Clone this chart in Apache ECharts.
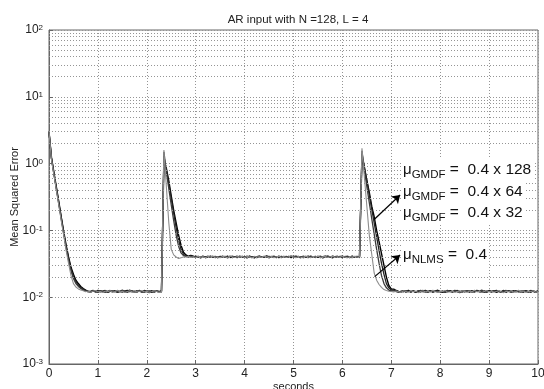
<!DOCTYPE html>
<html>
<head>
<meta charset="utf-8">
<script src="https://cdn.jsdelivr.net/npm/echarts@6/dist/echarts.min.js"></script>
<style>
html,body{margin:0;padding:0;background:#fff;}
#chart{width:544px;height:389px;}
</style>
</head>
<body>
<div id="chart"></div>
<script>
// ---- data ----
var titleText = 'AR input with N =128, L = 4';
var xTicks = [0,1,2,3,4,5,6,7,8,9,10];
var yTickExps = [-3,-2,-1,0,1,2];

var seconds = [
0,0.05,0.1,0.15,0.2,0.25,0.3,0.35,0.4,0.45,0.5,0.55,0.6,0.65,0.7,0.75,0.8,0.85,0.9,0.95,
1,1.05,1.1,1.15,1.2,1.25,1.3,1.35,1.4,1.45,1.5,1.55,1.6,1.65,1.7,1.75,1.8,1.85,1.9,1.95,
2,2.05,2.1,2.15,2.2,2.25,2.3,2.35,2.4,2.45,2.5,2.55,2.6,2.65,2.7,2.75,2.8,2.85,2.9,2.95,
3,3.05,3.1,3.15,3.2,3.25,3.3,3.35,3.4,3.45,3.5,3.55,3.6,3.65,3.7,3.75,3.8,3.85,3.9,3.95,
4,4.05,4.1,4.15,4.2,4.25,4.3,4.35,4.4,4.45,4.5,4.55,4.6,4.65,4.7,4.75,4.8,4.85,4.9,4.95,
5,5.05,5.1,5.15,5.2,5.25,5.3,5.35,5.4,5.45,5.5,5.55,5.6,5.65,5.7,5.75,5.8,5.85,5.9,5.95,
6,6.05,6.1,6.15,6.2,6.25,6.3,6.35,6.4,6.45,6.5,6.55,6.6,6.65,6.7,6.75,6.8,6.85,6.9,6.95,
7,7.05,7.1,7.15,7.2,7.25,7.3,7.35,7.4,7.45,7.5,7.55,7.6,7.65,7.7,7.75,7.8,7.85,7.9,7.95,
8,8.05,8.1,8.15,8.2,8.25,8.3,8.35,8.4,8.45,8.5,8.55,8.6,8.65,8.7,8.75,8.8,8.85,8.9,8.95,
9,9.05,9.1,9.15,9.2,9.25,9.3,9.35,9.4,9.45,9.5,9.55,9.6,9.65,9.7,9.75,9.8,9.85,9.9,9.95,
10
];

var mseNlms = [
3.0,1.15,0.68,0.40,0.24,0.14,0.085,0.05,0.032,0.021,0.016,0.0142,0.0133,0.0128,0.0125,
0.0121,0.0124,0.0119,0.0123,0.0126,0.0120,0.0122,0.0118,0.0124,0.0121,
0.0125,0.0119,0.0122,0.0127,0.0120,0.0123,0.0118,0.0122,0.0125,0.0121,
0.0119,0.0124,0.0122,0.0126,0.0120,0.0123,0.0119,0.0121,0.0125,0.0122,
0.0118,0.0121,
1.6,0.45,0.13,0.052,0.043,0.040,0.038,0.039,0.040,0.040,0.041,
0.0395,0.0402,0.0388,0.0410,0.0398,0.0404,0.0391,0.0407,0.0399,0.0412,
0.0396,0.0403,0.0389,0.0408,0.0401,0.0394,0.0415,0.0400,0.0392,0.0406,
0.0398,0.0411,0.0393,0.0405,0.0402,0.0387,0.0409,0.0399,0.0404,0.0395,
0.0413,0.0401,0.0396,0.0408,0.0390,0.0403,0.0410,0.0397,0.0405,0.0393,
0.0402,0.0416,0.0398,0.0391,0.0407,0.0400,0.0395,0.0411,0.0403,0.0389,
0.0406,0.0399,0.0412,0.0394,0.0401,0.0408,0.0392,0.0404,0.0410,0.0397,
0.0403,0.0395,0.0409,0.0400,0.0388,0.0405,0.0398,0.0411,0.0396,0.0402,
1.7,0.62,0.23,0.085,0.044,0.023,0.018,0.0155,0.014,0.013,0.0126,0.0123,0.0122,
0.0120,0.0124,0.0121,0.0118,0.0125,0.0122,0.0119,0.0126,0.0121,0.0123,
0.0117,0.0122,0.0125,0.0120,0.0124,0.0119,0.0127,0.0121,0.0118,0.0123,
0.0122,0.0126,0.0119,0.0121,0.0124,0.0118,0.0123,0.0120,0.0125,0.0122,
0.0119,0.0124,0.0121,0.0127,0.0120,0.0123,0.0118,0.0122,0.0125,0.0121,
0.0124,0.0119,0.0122,0.0126,0.0120,0.0117,0.0123,0.0121,0.0125,0.0119,
0.0122,0.0127,0.0120,0.0124,0.0118,0.0123,0.0121,0.0125,0.0119,0.0122
];

var mseGmdf128 = [
3.0,1.2,0.70,0.42,0.25,0.15,0.09,0.055,0.036,0.025,0.019,0.016,0.0145,0.0135,0.0128,
0.0124,0.0120,0.0123,0.0127,0.0119,0.0122,0.0125,0.0121,0.0118,0.0123,
0.0126,0.0120,0.0124,0.0119,0.0122,0.0128,0.0121,0.0118,0.0123,0.0125,
0.0120,0.0122,0.0127,0.0119,0.0124,0.0121,0.0117,0.0123,0.0120,0.0125,
0.0122,0.0119,
1.5,0.75,0.42,0.24,0.14,0.085,0.058,0.046,0.042,0.041,0.040,
0.0408,0.0396,0.0412,0.0401,0.0389,0.0405,0.0399,0.0414,0.0393,0.0403,
0.0410,0.0392,0.0401,0.0397,0.0409,0.0386,0.0404,0.0411,0.0398,0.0390,
0.0407,0.0400,0.0394,0.0413,0.0397,0.0405,0.0391,0.0402,0.0408,0.0396,
0.0399,0.0410,0.0388,0.0404,0.0413,0.0395,0.0401,0.0392,0.0409,0.0403,
0.0394,0.0405,0.0411,0.0397,0.0402,0.0389,0.0414,0.0398,0.0391,0.0407,
0.0400,0.0393,0.0406,0.0411,0.0396,0.0403,0.0415,0.0399,0.0390,0.0405,
0.0398,0.0409,0.0394,0.0402,0.0412,0.0397,0.0391,0.0404,0.0408,0.0400,
1.55,0.8,0.45,0.26,0.15,0.088,0.052,0.032,0.021,0.016,0.0138,0.0128,0.0124,
0.0125,0.0121,0.0118,0.0123,0.0120,0.0126,0.0122,0.0119,0.0124,0.0121,
0.0123,0.0127,0.0120,0.0122,0.0118,0.0124,0.0121,0.0125,0.0119,0.0122,
0.0120,0.0123,0.0127,0.0121,0.0119,0.0125,0.0122,0.0117,0.0124,0.0120,
0.0126,0.0121,0.0123,0.0119,0.0124,0.0122,0.0128,0.0120,0.0118,0.0123,
0.0121,0.0125,0.0120,0.0123,0.0119,0.0124,0.0126,0.0122,0.0118,0.0121,
0.0124,0.0120,0.0122,0.0126,0.0121,0.0119,0.0125,0.0123,0.0120,0.0124
];

var mseGmdf64 = [
3.0,1.2,0.72,0.43,0.26,0.155,0.093,0.057,0.038,0.026,0.020,0.017,0.015,0.0138,0.013,
0.0126,0.0122,0.0119,0.0124,0.0121,0.0127,0.0120,0.0123,0.0125,0.0118,
0.0122,0.0124,0.0120,0.0126,0.0121,0.0119,0.0125,0.0122,0.0128,0.0120,
0.0123,0.0119,0.0125,0.0121,0.0118,0.0124,0.0122,0.0126,0.0119,0.0123,
0.0121,0.0124,
1.3,0.8,0.5,0.3,0.18,0.11,0.072,0.052,0.044,0.041,0.040,
0.0415,0.0401,0.0393,0.0408,0.0397,0.0411,0.0389,0.0404,0.0400,0.0410,
0.0392,0.0406,0.0399,0.0413,0.0395,0.0402,0.0408,0.0390,0.0405,0.0398,
0.0411,0.0394,0.0403,0.0397,0.0409,0.0401,0.0388,0.0406,0.0412,0.0396,
0.0402,0.0393,0.0410,0.0399,0.0405,0.0391,0.0414,0.0400,0.0396,0.0408,
0.0397,0.0412,0.0390,0.0403,0.0409,0.0395,0.0401,0.0407,0.0393,0.0411,
0.0403,0.0396,0.0409,0.0392,0.0405,0.0413,0.0398,0.0402,0.0389,0.0406,
0.0410,0.0399,0.0393,0.0407,0.0401,0.0395,0.0412,0.0398,0.0404,0.0392,
1.4,0.9,0.55,0.34,0.21,0.13,0.08,0.05,0.032,0.022,0.016,0.0138,0.0128,
0.0128,0.0124,0.0120,0.0122,0.0126,0.0119,0.0123,0.0121,0.0125,0.0118,
0.0122,0.0120,0.0124,0.0127,0.0121,0.0123,0.0119,0.0122,0.0126,0.0120,
0.0124,0.0118,0.0122,0.0125,0.0121,0.0127,0.0120,0.0123,0.0119,0.0124,
0.0121,0.0125,0.0119,0.0122,0.0126,0.0120,0.0123,0.0118,0.0124,0.0122,
0.0119,0.0123,0.0127,0.0121,0.0118,0.0124,0.0120,0.0125,0.0122,0.0126,
0.0120,0.0123,0.0119,0.0121,0.0125,0.0122,0.0118,0.0124,0.0121,0.0123
];

var mseGmdf32 = [
3.0,1.25,0.74,0.45,0.27,0.16,0.097,0.06,0.04,0.028,0.022,0.018,0.016,0.0145,0.0135,
0.0128,0.0123,0.0120,0.0125,0.0122,0.0118,0.0124,0.0121,0.0126,0.0119,
0.0123,0.0121,0.0125,0.0118,0.0122,0.0124,0.0120,0.0127,0.0121,0.0123,
0.0119,0.0125,0.0122,0.0120,0.0126,0.0121,0.0123,0.0118,0.0124,0.0122,
0.0120,0.0123,
1.1,0.85,0.55,0.33,0.2,0.13,0.085,0.06,0.047,0.043,0.041,
0.0422,0.0410,0.0398,0.0405,0.0391,0.0409,0.0402,0.0395,0.0413,0.0399,
0.0404,0.0390,0.0408,0.0401,0.0396,0.0412,0.0393,0.0405,0.0400,0.0410,
0.0395,0.0407,0.0401,0.0389,0.0411,0.0398,0.0404,0.0392,0.0408,0.0403,
0.0397,0.0414,0.0400,0.0406,0.0394,0.0403,0.0390,0.0409,0.0401,0.0396,
0.0408,0.0393,0.0402,0.0413,0.0399,0.0405,0.0391,0.0400,0.0410,0.0397,
0.0401,0.0409,0.0395,0.0404,0.0389,0.0407,0.0402,0.0394,0.0412,0.0400,
0.0396,0.0405,0.0411,0.0399,0.0403,0.0390,0.0407,0.0401,0.0395,0.0409,
1.25,0.85,0.56,0.37,0.23,0.16,0.1,0.068,0.045,0.03,0.02,0.015,0.0132,
0.0132,0.0126,0.0122,0.0119,0.0124,0.0121,0.0127,0.0120,0.0123,0.0118,
0.0124,0.0121,0.0126,0.0119,0.0122,0.0125,0.0120,0.0123,0.0127,0.0121,
0.0118,0.0123,0.0121,0.0125,0.0120,0.0122,0.0126,0.0119,0.0124,0.0121,
0.0123,0.0119,0.0125,0.0121,0.0127,0.0122,0.0118,0.0124,0.0120,0.0126,
0.0122,0.0125,0.0118,0.0123,0.0121,0.0126,0.0119,0.0124,0.0122,0.0120,
0.0125,0.0121,0.0123,0.0119,0.0124,0.0120,0.0126,0.0122,0.0118,0.0123
];

// annotation arrows (data coordinates: [seconds, MSE])
var arrowGmdf = [[6.66, 0.148], [7.18, 0.339]];
var arrowNlms = [[6.66, 0.0203], [7.18, 0.0428]];
var annotationRows = [
  {sub: 'GMDF', rest: ' =  0.4 x 128'},
  {sub: 'GMDF', rest: ' =  0.4 x 64'},
  {sub: 'GMDF', rest: ' =  0.4 x 32'},
  {sub: 'NLMS', rest: ' =  0.4'}
];

// ---- chart ----
var FONT = '"Liberation Sans", Arial, sans-serif';
var chart = echarts.init(document.getElementById('chart'), null, {renderer: 'canvas'});

function pairs(arr) { return seconds.map(function (t, i) { return [t, arr[i]]; }); }

var minorLevels = [];
for (var e = yTickExps[0]; e < yTickExps[yTickExps.length - 1]; e++) {
  for (var m = 2; m <= 9; m++) minorLevels.push(m * Math.pow(10, e));
}

var gridDot = {color: '#959595', width: 1, type: [1, 2]};

function curve(name, arr, color, width) {
  return {
    name: name, type: 'line', data: pairs(arr), showSymbol: false, symbol: 'none',
    lineStyle: {color: color, width: width}, z: 3, animation: false, silent: true
  };
}

var rowY = [170, 192, 213, 255];
var richAnn = {
  m: {fontFamily: FONT, fontSize: 15, lineHeight: 22, verticalAlign: 'middle', fill: '#111', color: '#111'},
  s: {fontFamily: FONT, fontSize: 11.5, lineHeight: 12, verticalAlign: 'bottom', fill: '#111', color: '#111'},
  e: {fontFamily: FONT, fontSize: 15.5, lineHeight: 22, verticalAlign: 'middle', fill: '#111', color: '#111'}
};
var graphics = annotationRows.map(function (r, i) {
  return {
    type: 'text', x: 401, y: rowY[i], z: 100,
    style: {
      text: '{m|μ}{s|' + r.sub + '}{e|' + r.rest + '}',
      rich: richAnn, verticalAlign: 'middle', align: 'left',
      backgroundColor: '#fff', padding: [0, 2, 0, 2]
    }
  };
});

chart.setOption({
  animation: false,
  backgroundColor: '#fff',
  title: {
    text: titleText, left: 293, top: 9, textAlign: 'center',
    textStyle: {fontFamily: FONT, fontSize: 11.5, fontWeight: 'normal', color: '#222'}
  },
  grid: {
    left: 49, right: 6, top: 30, bottom: 25, outerBoundsMode: 'none', containLabel: false,
    show: true, borderColor: '#666', borderWidth: 1, backgroundColor: 'transparent'
  },
  xAxis: {
    type: 'value', min: xTicks[0], max: xTicks[xTicks.length - 1], interval: 1,
    name: 'seconds', nameLocation: 'middle', nameGap: 17, nameMoveOverlap: false,
    nameTextStyle: {fontFamily: FONT, fontSize: 11, color: '#222'},
    axisLine: {show: true, lineStyle: {color: '#666'}},
    axisTick: {show: true, inside: true, length: 4, lineStyle: {color: '#666'}},
    axisLabel: {margin: 4, fontFamily: FONT, fontSize: 12, color: '#222'},
    splitLine: {show: true, lineStyle: gridDot}
  },
  yAxis: {
    type: 'log', logBase: 10, min: Math.pow(10, yTickExps[0]), max: Math.pow(10, yTickExps[yTickExps.length - 1]),
    name: 'Mean Squared Error', nameLocation: 'middle', nameGap: 29, nameMoveOverlap: false,
    nameTextStyle: {fontFamily: FONT, fontSize: 11, color: '#222'},
    axisLine: {show: true, lineStyle: {color: '#666'}},
    axisTick: {show: true, inside: true, length: 4, lineStyle: {color: '#666'}},
    axisLabel: {
      margin: 6, fontFamily: FONT, color: '#222',
      formatter: function (v) { var ex = Math.round(Math.log10(v)); return '{b|10}{s|' + ex + '}'; },
      rich: {
        b: {fontFamily: FONT, fontSize: 12, lineHeight: 12, padding: [4, 0, 0, 0], verticalAlign: 'bottom', color: '#222'},
        s: {fontFamily: FONT, fontSize: 8, lineHeight: 8, verticalAlign: 'top', color: '#222'}
      }
    },
    splitLine: {show: true, lineStyle: gridDot}
  },
  series: [
    {
      name: 'minor-grid', type: 'line', data: [], z: 1, silent: true, animation: false,
      markLine: {
        silent: true, symbol: 'none', animation: false,
        label: {show: false},
        lineStyle: gridDot,
        data: minorLevels.map(function (v) { return {yAxis: v}; })
      }
    },
    curve('μGMDF = 0.4 x 32', mseGmdf32, '#000', 1.4),
    curve('μGMDF = 0.4 x 64', mseGmdf64, '#222', 1.3),
    curve('μGMDF = 0.4 x 128', mseGmdf128, '#3c3c3c', 1.3),
    curve('μNLMS = 0.4', mseNlms, '#8c8c8c', 1.1),
    {
      name: 'arrows', type: 'line', data: [], z: 50, silent: true, animation: false,
      markLine: {
        silent: true, animation: false, symbol: ['none', 'arrow'], symbolSize: 8,
        label: {show: false},
        lineStyle: {color: '#000', width: 1.2, type: 'solid'},
        emphasis: {disabled: true},
        data: [
          [{coord: arrowGmdf[0]}, {coord: arrowGmdf[1]}],
          [{coord: arrowNlms[0]}, {coord: arrowNlms[1]}]
        ]
      }
    }
  ],
  graphic: graphics
});
</script>
</body>
</html>
